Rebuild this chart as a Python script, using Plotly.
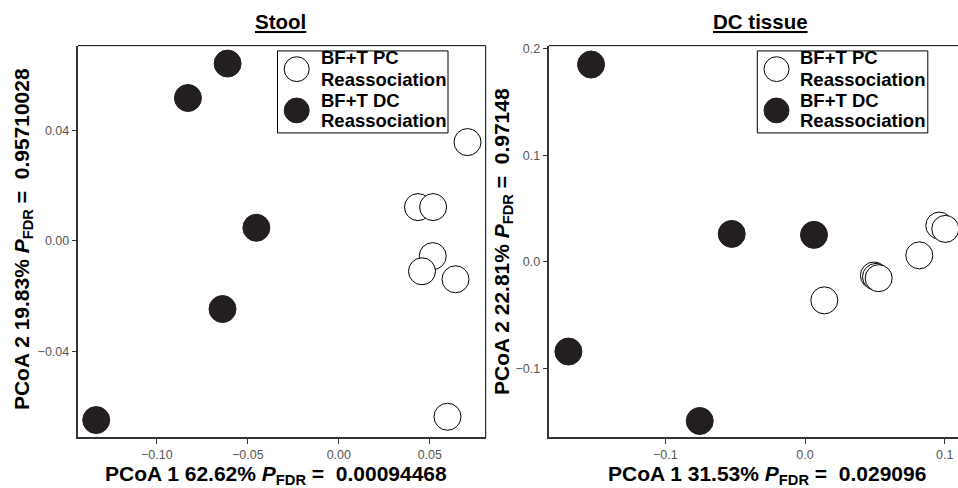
import plotly.graph_objects as go

# ---- data ----
stool_pc_x = [0.0707, 0.0435, 0.0518, 0.0516, 0.0457, 0.0641, 0.0597]
stool_pc_y = [0.0359, 0.0123, 0.0123, -0.0055, -0.0110, -0.0139, -0.0638]
stool_dc_x = [-0.0611, -0.0829, -0.0453, -0.0639, -0.1333]
stool_dc_y = [0.0644, 0.0519, 0.0048, -0.0247, -0.0650]

tissue_pc_x = [0.0961, 0.1004, 0.0818, 0.0493, 0.0508, 0.0527, 0.0138]
tissue_pc_y = [0.0341, 0.0310, 0.0062, -0.0127, -0.0140, -0.0152, -0.0360]
tissue_dc_x = [-0.1532, -0.0525, 0.0064, -0.1694, -0.0754]
tissue_dc_y = [0.1851, 0.0263, 0.0254, -0.0840, -0.1491]

group_names = ["BF+T PC Reassociation", "BF+T DC Reassociation"]
legend_lines = [["BF+T PC", "Reassociation"], ["BF+T DC", "Reassociation"]]
panel_titles = ["Stool", "DC tissue"]
x_titles = ["PCoA 1 62.62% <i>P</i><sub>FDR</sub> =  0.00094468",
            "PCoA 1 31.53% <i>P</i><sub>FDR</sub> =  0.029096"]
y_titles = ["PCoA 2 19.83% <i>P</i><sub>FDR</sub> =  0.95710028",
            "PCoA 2 22.81% <i>P</i><sub>FDR</sub> =  0.97148"]
stool_xticks = [-0.10, -0.05, 0.00, 0.05]
stool_yticks = [-0.04, 0.00, 0.04]
tissue_xticks = [-0.1, 0.0, 0.1]
tissue_yticks = [-0.1, 0.0, 0.1, 0.2]

W, H = 958, 488
FONT = "Liberation Sans, Arial, Helvetica, sans-serif"
DARK = "#231f20"
MS = 27

def px_x(p):
    return p / W

def px_y(p):
    return (H - p) / H

fig = go.Figure()

def add_panel(pcx, pcy, dcx, dcy, xa, ya):
    fig.add_trace(go.Scatter(
        x=pcx, y=pcy, mode="markers", name=group_names[0],
        xaxis=xa, yaxis=ya, showlegend=False,
        marker=dict(size=MS, color="white", line=dict(color="black", width=1)),
    ))
    fig.add_trace(go.Scatter(
        x=dcx, y=dcy, mode="markers", name=group_names[1],
        xaxis=xa, yaxis=ya, showlegend=False,
        marker=dict(size=MS, color=DARK, line=dict(color=DARK, width=1)),
    ))

add_panel(stool_pc_x, stool_pc_y, stool_dc_x, stool_dc_y, "x", "y")
add_panel(tissue_pc_x, tissue_pc_y, tissue_dc_x, tissue_dc_y, "x2", "y2")

axis_common = dict(
    showgrid=False, zeroline=False, showline=True, linecolor="#333333", linewidth=1.5,
    ticks="outside", ticklen=4.5, tickwidth=1.2, tickcolor="#333333",
    tickfont=dict(family=FONT, size=12.5, color="#555555"), mirror=False,
)

ydom = [px_y(437), px_y(42)]
fig.update_layout(
    width=W, height=H,
    margin=dict(l=0, r=0, t=0, b=0),
    paper_bgcolor="white", plot_bgcolor="white",
    font=dict(family=FONT),
    showlegend=False,
    xaxis=dict(domain=[px_x(78), px_x(485.7)], range=[-0.1433, 0.0807],
               tickvals=stool_xticks, tickformat=".2f", anchor="y", **axis_common),
    yaxis=dict(domain=ydom, range=[-0.0713, 0.0709],
               tickvals=stool_yticks, tickformat=".2f", anchor="x", **axis_common),
    xaxis2=dict(domain=[px_x(549), 1.0], range=[-0.1833, 0.1095],
                tickvals=tissue_xticks, tickformat=".1f", anchor="y2", **axis_common),
    yaxis2=dict(domain=ydom, range=[-0.1645, 0.2028],
                tickvals=tissue_yticks, tickformat=".1f", anchor="x2", **axis_common),
)

# panel borders (top & right) drawn thin black
shapes = [
    dict(type="line", xref="x domain", yref="y domain", x0=0, x1=1, y0=1, y1=1,
         line=dict(color="black", width=1)),
    dict(type="line", xref="x domain", yref="y domain", x0=1, x1=1, y0=0, y1=1,
         line=dict(color="black", width=1)),
    dict(type="line", xref="x2 domain", yref="y2 domain", x0=0, x1=1.05, y0=1, y1=1,
         line=dict(color="black", width=1)),
]

ann = []
title_x = [280, 760.5]
xt_x = [276, 767]
yt_x = [23, 503]
yt_y = [237, 240]
for i in range(2):
    ann.append(dict(text="<b><u>%s</u></b>" % panel_titles[i], xref="paper", yref="paper",
                    x=px_x(title_x[i]), y=px_y(17.5), xanchor="center", yanchor="middle",
                    showarrow=False, font=dict(family=FONT, size=20.5, color="black")))
    ann.append(dict(text="<b>%s</b>" % x_titles[i], xref="paper", yref="paper",
                    x=px_x(xt_x[i]), y=px_y(475), xanchor="center", yanchor="middle",
                    showarrow=False, font=dict(family=FONT, size=21, color="black")))
    ann.append(dict(text="<b>%s</b>" % y_titles[i], xref="paper", yref="paper",
                    x=px_x(yt_x[i]), y=px_y(yt_y[i]), xanchor="center", yanchor="middle",
                    textangle=-90, showarrow=False,
                    font=dict(family=FONT, size=21, color="black")))

# legends (one per panel), drawn as key box + symbols + text
legend_left = [277.5, 757.3]
box_top, box_bottom, box_w = 47.3, 130.0, 170.5
sym_cy = [65.7, 107.3]
sym_d = 25
line_cy = [[53.6, 76.0], [97.0, 117.6]]
sym_fill = ["white", DARK]
sym_line = ["black", DARK]
for lx in legend_left:
    shapes.append(dict(type="rect", xref="paper", yref="paper",
                       x0=px_x(lx), x1=px_x(lx + box_w), y0=px_y(box_bottom), y1=px_y(box_top),
                       line=dict(color="black", width=1), fillcolor="white", layer="above"))
    for g in range(2):
        cx = lx + 19.2
        shapes.append(dict(type="circle", xref="paper", yref="paper",
                           x0=px_x(cx - sym_d / 2), x1=px_x(cx + sym_d / 2),
                           y0=px_y(sym_cy[g] + sym_d / 2), y1=px_y(sym_cy[g] - sym_d / 2),
                           line=dict(color=sym_line[g], width=1), fillcolor=sym_fill[g],
                           layer="above"))
        for k in range(2):
            ann.append(dict(text="<b>%s</b>" % legend_lines[g][k], xref="paper", yref="paper",
                            x=px_x(lx + 41.0), y=px_y(line_cy[g][k]),
                            xanchor="left", yanchor="middle", showarrow=False,
                            font=dict(family=FONT, size=18.5, color="black")))

fig.update_layout(shapes=shapes, annotations=ann)

fig.write_html("out.html", config={"displayModeBar": False},
               post_script="document.body.style.margin='0px';")
